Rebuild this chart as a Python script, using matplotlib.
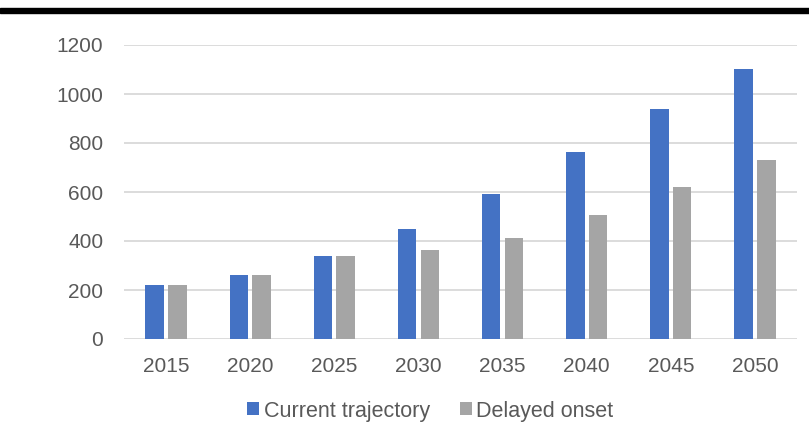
import numpy as np
import matplotlib
matplotlib.use("Agg")
import matplotlib.pyplot as plt
from matplotlib.patches import Rectangle

years = ["2015", "2020", "2025", "2030", "2035", "2040", "2045", "2050"]
current = [222, 262, 337, 448, 593, 763, 940, 1100]
delayed = [222, 262, 337, 362, 412, 505, 619, 731]

plt.rcParams["font.family"] = ["Liberation Sans", "DejaVu Sans"]
txt = "#595959"

fig = plt.figure(figsize=(8.09, 4.36), dpi=100)
ax = fig.add_axes([124/809, 1-339/436, (797-124)/809, (339-45)/436])

x = np.arange(len(years))
w = 0.22
ax.bar(x - 0.135, current, w, color="#4472C4", label="Current trajectory", zorder=3)
ax.bar(x + 0.135, delayed, w, color="#A5A5A5", label="Delayed onset", zorder=3)

ax.set_xlim(-0.5, len(years) - 0.5)
ax.set_ylim(0, 1200)
ax.set_yticks(range(0, 1201, 200))
ax.set_xticks(x)
ax.set_xticklabels(years)
ax.grid(axis="y", color="#d9d9d9", lw=1.3, zorder=0)
ax.set_axisbelow(True)
for s in ax.spines.values():
    s.set_visible(False)
ax.tick_params(axis="both", length=0, labelsize=15, colors=txt)
ax.tick_params(axis="y", pad=15)
ax.tick_params(axis="x", pad=13)

leg = ax.legend(loc="center", bbox_to_anchor=(0.455, -0.245), ncol=2, frameon=False,
                fontsize=15.5, handlelength=0.56, handleheight=0.56, handletextpad=0.2,
                columnspacing=1.4)
for t in leg.get_texts():
    t.set_color(txt)

# thick black rule under the (cropped) title
fig.patches.append(Rectangle((0, 1-13/436), 1, 5/436, transform=fig.transFigure,
                             color="black", zorder=5))

fig.savefig("out.png", dpi=100)
